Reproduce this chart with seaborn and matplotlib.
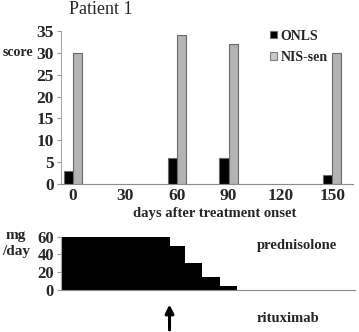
"""
Patient 1: ONLS / NIS-sen scores and prednisolone taper
"""

import pandas as pd
import seaborn as sns
import matplotlib.pyplot as plt

# --- Data ---
day_labels = ["0", "30", "60", "90", "120", "150"]
onls = [3, None, 6, 6, None, 2]
nis_sen = [30, None, 34, 32, None, 30]

# prednisolone taper (mg/day), step starts in days after onset
dose_days = [-7, 56, 65, 75, 85, 95, 170]
dose_mg = [60, 50, 30, 15, 5, 0, 0]
rituximab_day = 56

df = pd.DataFrame({
    "day": day_labels * 2,
    "measure": ["ONLS"] * 6 + ["NIS-sen"] * 6,
    "score": onls + nis_sen,
})

sns.set_style("ticks")
plt.rcParams["font.family"] = ["Liberation Serif", "DejaVu Serif"]

fig = plt.figure(figsize=(3.59, 3.32), dpi=100)
W, H = 359, 332


def px_axes(left, top, right, bottom):
    return fig.add_axes([left / W, 1 - bottom / H, (right - left) / W, (bottom - top) / H])


# --- Top: score bars ---
ax = px_axes(61, 31, 353, 184)
sns.barplot(data=df, x="day", y="score", hue="measure", order=day_labels,
            hue_order=["ONLS", "NIS-sen"], palette=["black", "#b3b3b3"],
            width=0.35, edgecolor="#6a6a6a", linewidth=0.8, ax=ax)
ax.set_xlim(-0.23, 5.4)
ax.set_ylim(0, 35)
ax.set_yticks(range(0, 36, 5))
ax.set_xlabel("")
ax.set_ylabel("")
ax.tick_params(axis="x", length=0, pad=3, labelsize=12.5)
ax.tick_params(axis="y", length=3, width=0.8, color="#9a9a9a", pad=2, labelsize=12.5)
for lbl in ax.get_xticklabels() + ax.get_yticklabels():
    lbl.set_fontweight("bold")
sns.despine(ax=ax)
ax.spines["left"].set_color("#a8a8a8")
ax.spines["bottom"].set_color("#8a8a8a")

handles, labels = ax.get_legend_handles_labels()
handles[1].set_facecolor("#c8c8c8")
handles[1].set_edgecolor("#808080")
ax.legend(handles, labels, loc="upper left", bbox_to_anchor=(257 / W, 1 - 17 / H),
          bbox_transform=fig.transFigure, frameon=False, handlelength=0.55,
          handleheight=0.45, handletextpad=0.25, labelspacing=0.6,
          prop={"weight": "bold", "size": 10})

fig.text(101 / W, 1 - 10 / H, "Patient 1", ha="center", va="center", fontsize=13)
fig.text(18 / W, 1 - 52 / H, "score", ha="center", va="center", fontsize=10,
         fontweight="bold")
fig.text(215 / W, 1 - 213 / H, "days after treatment onset", ha="center",
         va="center", fontsize=10.5, fontweight="bold")

# --- Bottom: prednisolone dose ---
bx = px_axes(61, 236.7, 355, 290)
bx.fill_between(dose_days, dose_mg, step="post", color="black", linewidth=0)
bx.set_xlim(-0.23 * 30, 5.45 * 30)
bx.set_ylim(0, 60)
bx.set_yticks([0, 20, 40, 60])
bx.set_xticks([])
bx.tick_params(axis="y", length=3, width=0.8, color="#9a9a9a", pad=2, labelsize=12)
for lbl in bx.get_yticklabels():
    lbl.set_fontweight("bold")
sns.despine(ax=bx)
bx.spines["left"].set_color("#a8a8a8")
bx.spines["bottom"].set_color("#8a8a8a")

bx.annotate("", xy=(rituximab_day, -0.22), xytext=(rituximab_day, -0.8),
            xycoords=bx.get_xaxis_transform(), annotation_clip=False,
            arrowprops=dict(arrowstyle="-|>,head_width=0.25,head_length=0.5",
                            color="black", lw=2.2))

fig.text(16 / W, 1 - 236 / H, "mg", ha="center", va="center", fontsize=11,
         fontweight="bold")
fig.text(16 / W, 1 - 251 / H, "/day", ha="center", va="center", fontsize=11,
         fontweight="bold")
fig.text(257 / W, 1 - 246 / H, "prednisolone", ha="left", va="center",
         fontsize=10.5, fontweight="bold")
fig.text(257 / W, 1 - 318 / H, "rituximab", ha="left", va="center",
         fontsize=10.5, fontweight="bold")

fig.savefig("out.png", dpi=100)
